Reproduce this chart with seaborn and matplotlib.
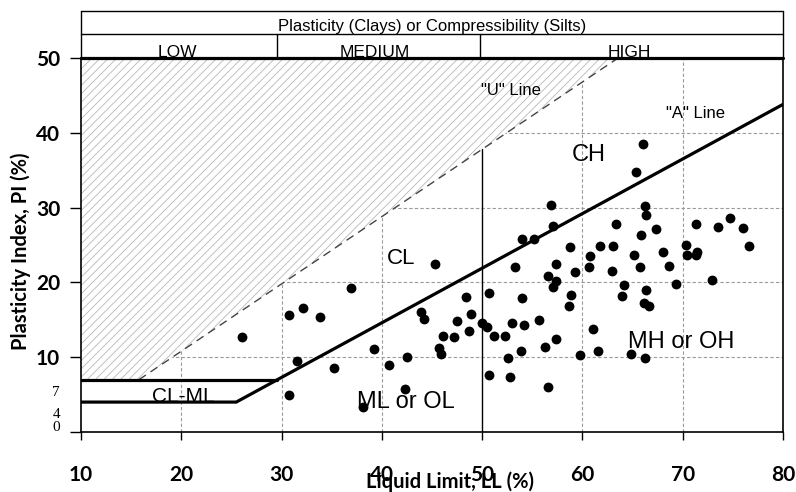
import matplotlib
matplotlib.use("Agg")
import matplotlib.pyplot as plt
import matplotlib.transforms as mtransforms
from matplotlib.patches import Polygon
import seaborn as sns
import pandas as pd

# ---------------- data ----------------
liquid_limit = [26.1, 30.7, 32.1, 33.8, 36.9, 39.2, 31.5, 35.2, 40.7, 30.7, 38.1,
                45.3, 54.0, 53.3, 48.4, 50.7, 54.0, 43.9, 44.2, 48.9, 47.5, 48.7,
                50.0, 50.5, 53.0, 46.1, 47.2, 51.2, 52.3, 45.7, 45.9, 42.5, 52.6,
                53.9, 50.7, 52.8, 42.3, 54.2, 66.0, 65.3, 56.9, 66.2, 66.3, 57.1,
                63.3, 55.2, 65.8, 58.8, 61.8, 63.0, 60.8, 65.1, 57.4, 60.7, 65.7,
                59.3, 62.9, 56.6, 57.4, 57.1, 64.1, 63.9, 66.3, 58.9, 58.7, 66.1,
                66.6, 55.7, 61.1, 57.4, 56.3, 59.8, 61.6, 64.8, 66.2, 56.6, 67.3,
                71.3, 73.5, 74.7, 76.0, 76.6, 70.3, 70.4, 71.4, 71.3, 68.0, 68.6,
                69.3, 72.9]
plasticity_index = [12.7, 15.7, 16.6, 15.4, 19.2, 11.1, 9.5, 8.6, 8.9, 5.0, 3.4,
                    22.5, 25.8, 22.0, 18.1, 18.6, 17.9, 16.0, 15.1, 15.8, 14.9, 13.5,
                    14.6, 14.1, 14.6, 12.9, 12.7, 12.9, 12.9, 11.2, 10.4, 10.0, 9.9,
                    10.8, 7.6, 7.3, 5.8, 14.3, 38.5, 34.8, 30.4, 30.2, 29.0, 27.5,
                    27.8, 25.8, 26.3, 24.7, 24.8, 24.8, 23.5, 23.7, 22.4, 22.1, 22.1,
                    21.4, 21.5, 20.9, 20.2, 19.4, 19.7, 18.2, 19.0, 18.3, 16.9, 17.2,
                    16.8, 15.0, 13.8, 12.4, 11.3, 10.3, 10.8, 10.4, 9.9, 6.0, 27.2,
                    27.8, 27.4, 28.6, 27.3, 24.8, 25.0, 23.7, 24.1, 23.6, 24.1, 22.2,
                    19.8, 20.3]

x_ticks = [10, 20, 30, 40, 50, 60, 70, 80]
y_ticks = [0, 10, 20, 30, 40, 50]
y_tick_labels = ["", "10", "20", "30", "40", "50"]
small_y_labels = ["7", "4", "0"]
small_y_label_pos = [5.3, 2.4, 0.6]

header_title = "Plasticity (Clays) or Compressibility (Silts)"
header_classes = ["LOW", "MEDIUM", "HIGH"]
header_class_centers = [19.6, 39.3, 64.7]
header_dividers = [29.5, 49.8]

zone_labels = ["CL", "CH", "ML or OL", "MH or OH", "CL-ML", '"U" Line', '"A" Line']
zone_ll = [41.9, 60.6, 42.35, 69.8, 20.2, 52.9, 71.3]
zone_pi = [22.5, 36.2, 3.2, 11.2, 4.05, 45.1, 42.0]
zone_size = [16, 17, 17, 17, 15, 12, 12]

# chart lines (USCS)
a_line_ll = [10, 25.48, 80]
a_line_pi = [4, 4, 43.8]
clml_top_ll = [10, 29.59]
clml_top_pi = [7, 7]
u_line_ll = [15.78, 63.56]
u_line_pi = [7, 50]
ll50_line_pi = [0, 37.8]

# ---------------- style ----------------
sns.set_style("white")
plt.rcParams["font.family"] = ["Liberation Sans", "DejaVu Sans"]
plt.rcParams["text.color"] = "black"
plt.rcParams["axes.labelcolor"] = "black"
plt.rcParams["hatch.linewidth"] = 0.6
plt.rcParams["hatch.color"] = "#b8b8b8"

fig = plt.figure(figsize=(7.96, 4.92), dpi=100)
ax = fig.add_axes([81 / 796, 60 / 492, 702 / 796, 374 / 492])
ax.set_xlim(10, 80)
ax.set_ylim(0, 50)

# grid (dashed)
grid_kw = dict(color="#9a9a9a", lw=0.8, ls=(0, (3, 2)), zorder=1)
for gx in [20, 30, 40, 60, 70]:
    ax.axvline(gx, **grid_kw)
for gy in [10, 20, 30, 40]:
    ax.axhline(gy, **grid_kw)

# hatched region above U-line
hatch_poly = Polygon([(10, 7), (u_line_ll[0], 7), (u_line_ll[1], 50), (10, 50)],
                     closed=True, facecolor="white", edgecolor="#b8b8b8",
                     hatch="////", lw=0, zorder=2)
ax.add_patch(hatch_poly)

# lines
ax.plot(u_line_ll, u_line_pi, color="#444444", lw=1.0, ls=(0, (6, 4)), zorder=3)
ax.plot(a_line_ll, a_line_pi, color="black", lw=2.3, zorder=4, solid_joinstyle="miter")
ax.plot(clml_top_ll, clml_top_pi, color="black", lw=2.3, zorder=4)
ax.plot([50, 50], ll50_line_pi, color="black", lw=1.0, zorder=3)

# data points
df = pd.DataFrame({"LL": liquid_limit, "PI": plasticity_index})
sns.scatterplot(data=df, x="LL", y="PI", color="black", s=50, linewidth=0,
                zorder=6, ax=ax, legend=False)

# header box
ax.plot([10, 80], [50, 50], color="black", lw=2.3, clip_on=False, zorder=7)
box_kw = dict(color="black", lw=1.0, clip_on=False, zorder=7)
ax.plot([10, 80], [56.3, 56.3], **box_kw)
ax.plot([10, 80], [53.2, 53.2], **box_kw)
ax.plot([10, 10], [50, 56.3], **box_kw)
ax.plot([80, 80], [50, 56.3], **box_kw)
for d in header_dividers:
    ax.plot([d, d], [50, 53.2], **box_kw)
ax.text(45, 53.55, header_title, ha="center", va="baseline", fontsize=12,
        color="black", clip_on=False)
for lab, cx in zip(header_classes, header_class_centers):
    ax.text(cx, 50.2, lab, ha="center", va="baseline", fontsize=12.5,
            color="black", clip_on=False)

# zone labels
for lab, x, y, fs in zip(zone_labels, zone_ll, zone_pi, zone_size):
    ax.text(x, y, lab, ha="center", va="baseline", fontsize=fs, color="black", zorder=8)

# spines
for side in ["left", "bottom", "right"]:
    ax.spines[side].set_visible(True)
    ax.spines[side].set_color("black")
    ax.spines[side].set_linewidth(1.2)
ax.spines["top"].set_visible(False)

# ticks
tick_font = dict(fontfamily=["Lato", "DejaVu Sans"], fontweight="bold", fontsize=15)
ax.set_xticks(x_ticks, labels=[str(v) for v in x_ticks], **tick_font)
ax.set_yticks(y_ticks, labels=y_tick_labels, **tick_font)
ax.tick_params(axis="x", bottom=True, direction="out", length=6, width=1.0, pad=18,
               colors="black")
ax.tick_params(axis="y", left=True, direction="out", length=8, width=1.0, pad=7,
               colors="black")
ax.set_xlabel("")
ax.set_ylabel("")

trans = mtransforms.blended_transform_factory(ax.transAxes, ax.transData)
for lab, y in zip(small_y_labels, small_y_label_pos):
    ax.text(-0.030, y, lab, transform=trans, ha="right", va="center",
            fontfamily=["Liberation Serif", "DejaVu Serif"], fontsize=11,
            color="black", clip_on=False)

# axis titles
fig.text(21 / 796, (492 - 251) / 492, "Plasticity Index, PI (%)", rotation=90,
         ha="center", va="center", fontfamily=["Lato", "DejaVu Sans"],
         fontweight="bold", fontsize=14.5, color="black")
fig.text(450 / 796, (492 - 471) / 492, "Liquid Limit, LL (%)", ha="center", va="top",
         fontfamily=["Lato", "DejaVu Sans"], fontweight="bold", fontsize=14.5,
         color="black")

fig.savefig("out.png", dpi=100)
